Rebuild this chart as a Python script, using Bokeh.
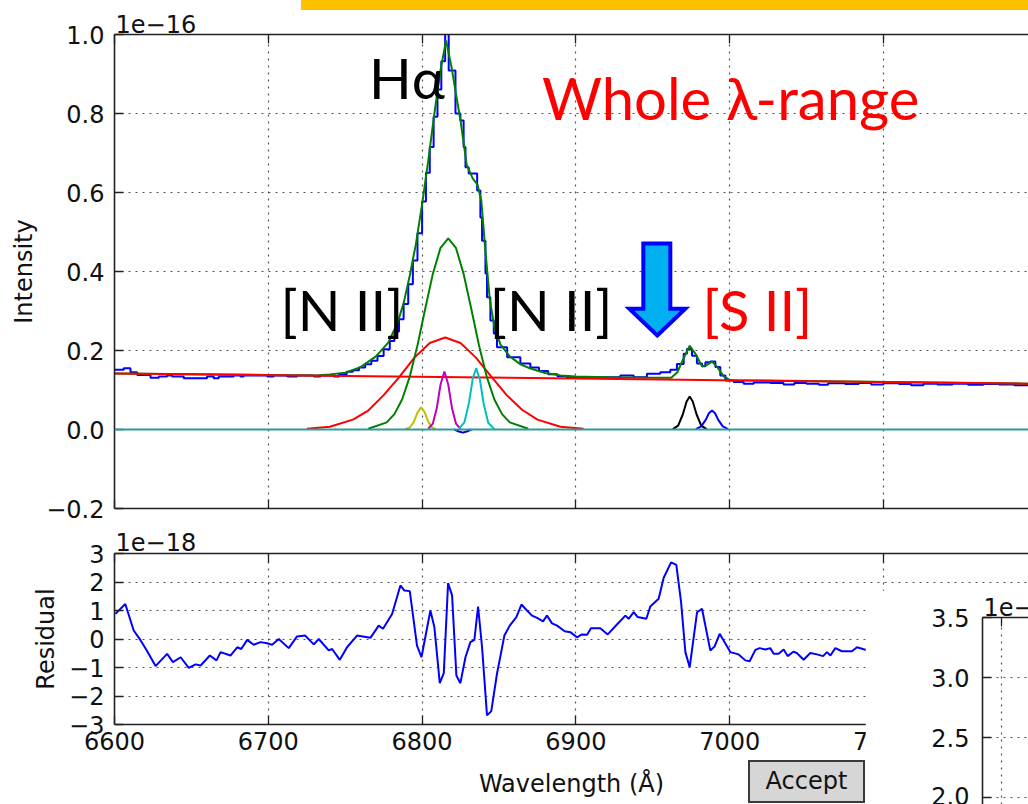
from bokeh.plotting import figure
from bokeh.models import (Range1d, LinearAxis, FixedTicker, CustomJSTickFormatter,
                          CustomLabelingPolicy, Label, Span, GridBox, Div, Column)
from bokeh.embed import file_html
from bokeh.resources import INLINE

# ---------------- data (flux in units of 1e-16, residual in 1e-18) ----------------
obs_wl = [6600, 6606, 6610.4, 6614.7, 6623.4, 6628.8, 6634.2, 6637.5, 6645, 6660.2, 6664.5,
          6667.8, 6677.5, 6681.9, 6684, 6699.3, 6703.6, 6712.3, 6718.8, 6729.6, 6733.9, 6742.6,
          6746, 6751, 6755, 6759, 6763, 6767, 6771, 6775, 6779, 6782, 6785, 6788, 6791, 6794,
          6797, 6800, 6802.5, 6805, 6807.5, 6810, 6812.5, 6815, 6817.3, 6821.7, 6824.9, 6827,
          6828.2, 6830.3, 6835.8, 6837.9, 6839, 6841.2, 6842.2, 6844.4, 6846.6, 6848.7, 6855.3,
          6863.9, 6870.4, 6876, 6882, 6888, 6894, 6928.9, 6937.6, 6946.2, 6954.9, 6961.4,
          6965.7, 6970.1, 6972.2, 6975.5, 6978.7, 6982, 6984.2, 6987.4, 6990.7, 6993.9, 6997.2,
          7002.6, 7009.1, 7015.6, 7026.4, 7035, 7042, 7050, 7058, 7064, 7075, 7084, 7092, 7100,
          7110, 7118, 7126, 7135, 7145, 7155, 7165, 7175, 7185, 7194.3]
obs_flux = [0.151, 0.155, 0.145, 0.138, 0.131, 0.134, 0.137, 0.134, 0.130, 0.134, 0.130,
            0.134, 0.137, 0.134, 0.137, 0.134, 0.137, 0.134, 0.137, 0.134, 0.137, 0.134,
            0.140, 0.146, 0.150, 0.157, 0.165, 0.174, 0.186, 0.203, 0.224, 0.248, 0.279, 0.318,
            0.368, 0.428, 0.497, 0.577, 0.650, 0.715, 0.792, 0.861, 0.932, 1.03, 0.909, 0.800,
            0.782, 0.715, 0.664, 0.648, 0.605, 0.537, 0.478, 0.395, 0.335, 0.276, 0.243, 0.208,
            0.183, 0.167, 0.157, 0.148, 0.140, 0.135, 0.132, 0.137, 0.132, 0.141, 0.145, 0.151,
            0.166, 0.192, 0.204, 0.187, 0.167, 0.160, 0.170, 0.172, 0.158, 0.137, 0.124,
            0.120, 0.116, 0.119, 0.118, 0.114, 0.118, 0.116, 0.113, 0.117, 0.115, 0.118, 0.114,
            0.117, 0.115, 0.112, 0.116, 0.114, 0.116, 0.113, 0.115, 0.114, 0.112, 0.112]

total_wl = [6600, 6700, 6730, 6740, 6750, 6760, 6770, 6778, 6784, 6788, 6792, 6796, 6800,
            6804, 6808, 6812, 6815.6, 6819.5, 6822, 6825, 6829, 6833, 6836, 6838.5, 6841,
            6844, 6847, 6851, 6857, 6864, 6870, 6880, 6890, 6900, 6920, 6950, 6962, 6966,
            6970, 6974, 6978, 6982, 6985, 6988.5, 6992, 6996, 7000, 7194.3]
total_flux = [0.142, 0.138, 0.137, 0.139, 0.144, 0.158, 0.185, 0.220, 0.270, 0.320, 0.390,
              0.470, 0.570, 0.680, 0.800, 0.910, 0.985, 0.910, 0.850, 0.782, 0.670, 0.635,
              0.620, 0.580, 0.460, 0.330, 0.260, 0.215, 0.185, 0.165, 0.155, 0.143, 0.137,
              0.134, 0.132, 0.131, 0.131, 0.145, 0.180, 0.212, 0.190, 0.160, 0.163, 0.172,
              0.158, 0.135, 0.125, 0.116]

cont_wl = [6600, 6900, 7194.3]
cont_flux = [0.142, 0.129, 0.116]

broad_wl = [6725, 6740, 6755, 6765, 6775, 6785, 6795, 6805, 6815, 6825, 6835, 6845, 6855,
            6865, 6875, 6890, 6905]
broad_flux = [0.002, 0.007, 0.025, 0.048, 0.087, 0.132, 0.182, 0.219, 0.233, 0.219, 0.182,
              0.134, 0.087, 0.050, 0.025, 0.007, 0.002]

narrow_wl = [6765, 6777, 6782, 6787, 6792, 6797, 6802, 6807, 6812, 6817, 6822, 6827, 6832,
             6837, 6842, 6847, 6852, 6857, 6869]
narrow_flux = [0.002, 0.018, 0.039, 0.076, 0.134, 0.213, 0.305, 0.394, 0.460, 0.484, 0.460,
               0.394, 0.305, 0.213, 0.134, 0.076, 0.039, 0.018, 0.002]

yel_wl = [6789, 6792, 6794.5, 6797, 6799.3, 6801.5, 6804, 6806.5, 6809]
yel_flux = [0.001, 0.005, 0.018, 0.043, 0.056, 0.045, 0.020, 0.005, 0.001]

mag_wl = [6804, 6807, 6809.5, 6812, 6814.5, 6817, 6819.5, 6822, 6825]
mag_flux = [0.002, 0.015, 0.053, 0.114, 0.147, 0.114, 0.053, 0.015, 0.002]

cyan_wl = [6824, 6827.5, 6830.5, 6833, 6835.2, 6837.5, 6840, 6843, 6847]
cyan_flux = [0.002, 0.018, 0.068, 0.130, 0.155, 0.128, 0.066, 0.017, 0.001]

dip_wl = [6821, 6824, 6826.5, 6829, 6832]
dip_flux = [0.0, -0.005, -0.008, -0.005, 0.0]

s1_wl = [6963, 6966.5, 6969.5, 6972, 6974, 6976, 6978.5, 6981.5, 6985]
s1_flux = [0.001, 0.010, 0.038, 0.071, 0.0835, 0.071, 0.038, 0.010, 0.001]

s2_wl = [6978, 6981.5, 6984.5, 6986.5, 6988.5, 6990.5, 6992.5, 6995.5, 6999]
s2_flux = [0.001, 0.008, 0.025, 0.041, 0.048, 0.041, 0.025, 0.008, 0.001]

resid_wl = [6600.6, 6607, 6612.5, 6617, 6621, 6626.7, 6634.2, 6638, 6643, 6648.3, 6652.7,
            6656, 6662, 6666.3, 6669, 6675.4, 6679.8, 6682.4, 6686.3, 6690.5, 6695, 6699.2,
            6702.5, 6706.8, 6713.3, 6718.7, 6724, 6729.6, 6732.8, 6739.3, 6741.5, 6746.5,
            6751.2, 6757.7, 6766.4, 6771.8, 6774.6, 6780.5, 6785.9, 6788.5, 6792, 6796.7,
            6799.6, 6805.4, 6808, 6811.5, 6814.1, 6816.9, 6819.5, 6822.3, 6824.9, 6828.2,
            6831.4, 6834, 6836.4, 6839, 6842.2, 6845, 6848.7, 6853.5, 6857, 6861.3, 6864.6,
            6868.2, 6871.5, 6874.8, 6878.6, 6881.2, 6884.5, 6887.8, 6892.7, 6896.4, 6900.7,
            6903.9, 6907.3, 6909.8, 6915.9, 6920.7, 6926.7, 6932.2, 6934.3, 6937.6, 6940.2,
            6945.8, 6948.4, 6953.8, 6957.1, 6961.9, 6965.3, 6968.4, 6971.2, 6974, 6978.8,
            6982, 6987.4, 6990.2, 6993.5, 7000.4, 7005.8, 7010.2, 7013, 7016.7, 7019.5,
            7023.2, 7026.4, 7028.6, 7031.8, 7035.1, 7037.7, 7041.6, 7043.8, 7048.1, 7052.4,
            7056.8, 7060.7, 7063.3, 7065.5, 7068.7, 7073, 7079.5, 7082.8, 7088.2, 7095, 7105]
resid_val = [0.88, 1.23, 0.30, -0.05, -0.40, -0.95, -0.52, -0.81, -0.64, -1.01, -0.89,
             -0.93, -0.58, -0.75, -0.46, -0.58, -0.29, -0.35, -0.03, -0.20, -0.11, -0.15,
             -0.20, 0.00, -0.32, 0.09, 0.12, -0.19, 0.00, -0.40, -0.35, -0.73,
             -0.29, 0.12, 0.04, 0.47, 0.36, 0.88, 1.88, 1.70, 1.68, -0.23,
             -0.64, 1.00, 0.41, -1.55, -1.20, 1.96, 1.53, -1.28, -1.55, -0.64,
             -0.11, -0.03, 1.14, -0.29, -2.68, -2.53, -1.22, 0.12, 0.47, 0.77, 1.21,
             1.00, 0.82, 0.74, 0.62, 0.82, 0.55, 0.47, 0.27, 0.24, 0.06,
             0.16, 0.15, 0.38, 0.38, 0.16, 0.51, 0.82, 0.71, 0.94, 0.77,
             0.71, 1.14, 1.41, 2.15, 2.69, 2.60, 1.29, -0.46, -0.99, 0.94,
             1.06, -0.40, -0.26, 0.18, -0.46, -0.54, -0.75, -0.78, -0.38, -0.32,
             -0.37, -0.32, -0.52, -0.52, -0.37, -0.60, -0.44, -0.50, -0.73, -0.49,
             -0.54, -0.60, -0.46, -0.58, -0.32, -0.43, -0.43, -0.29, -0.38, -0.35, -0.40]

x_ticks = [6600, 6700, 6800, 6900, 7000, 7100, 7200]
main_y_ticks = [-0.2, 0.0, 0.2, 0.4, 0.6, 0.8, 1.0]
resid_y_ticks = [-3, -2, -1, 0, 1, 2, 3]
inset_x_ticks = [6600]
inset_y_ticks = [2.0, 2.5, 3.0, 3.5]

# annotation arrow outline (wavelength, flux)
arrow_wl = [6943.85, 6961.4, 6961.4, 6971.15, 6952.95, 6934.75, 6943.85]
arrow_flux = [0.471, 0.471, 0.306, 0.306, 0.238, 0.306, 0.306]

# ---------------- styling helpers ----------------
MPL_FONT = "DejaVu Sans"
FS = "24px"
PPT_FONT = "Lato"


def no_labels():
    return CustomLabelingPolicy(code="for (const i of indices) { indices.unset(i) }\nreturn indices")


def style_axis(ax, labels=True):
    ax.axis_line_color = "#222222"
    ax.axis_line_width = 1.6
    ax.major_tick_line_color = "#222222"
    ax.major_tick_line_width = 1.3
    ax.major_tick_in = 9
    ax.major_tick_out = 0
    ax.minor_tick_line_color = None
    ax.major_label_text_font = MPL_FONT
    ax.major_label_text_color = "#111111"
    if labels:
        ax.major_label_text_font_size = FS
    else:
        ax.major_label_text_font_size = "0px"
        ax.major_label_standoff = 0
        ax.major_label_policy = no_labels()
    ax.axis_label_text_font = MPL_FONT
    ax.axis_label_text_font_size = FS
    ax.axis_label_text_font_style = "normal"
    ax.axis_label_text_color = "#111111"


def style_grid(p):
    p.xgrid.grid_line_color = "#555555"
    p.xgrid.grid_line_dash = "2 5"
    p.xgrid.grid_line_width = 1.2
    p.ygrid.grid_line_color = "#555555"
    p.ygrid.grid_line_dash = "2 5"
    p.ygrid.grid_line_width = 1.2


def style_title(p, text, standoff):
    p.title.text = text
    p.title.align = "left"
    p.title.offset = 1
    p.title.standoff = standoff
    p.title.text_font = MPL_FONT
    p.title.text_font_size = FS
    p.title.text_font_style = "normal"
    p.title.text_color = "#111111"


def fmt(decimals):
    return CustomJSTickFormatter(
        code="return tick.toFixed(%d).replace('-', '\\u2212');" % decimals)


X_END = 7194.3

# ---------------- main panel (canvas reaches under the residual panel) ----------------
p = figure(width=1028, height=590, x_range=Range1d(6600, X_END), y_range=Range1d(-0.2, 1.0),
           output_backend="svg", toolbar_location=None,
           min_border_left=114, min_border_right=0, min_border_top=34, min_border_bottom=82)
p.outline_line_color = None
p.background_fill_color = "white"
p.border_fill_color = "white"
style_title(p, "1e\u221216", 4)

xa = p.xaxis[0]
xa.ticker = FixedTicker(ticks=x_ticks)
style_axis(xa, labels=False)
ya = p.yaxis[0]
ya.ticker = FixedTicker(ticks=main_y_ticks)
ya.formatter = fmt(1)
ya.axis_label = "Intensity"
style_axis(ya)
ya.major_label_standoff = 10
ya.axis_label_standoff = 5
top_ax = LinearAxis(ticker=FixedTicker(ticks=x_ticks))
style_axis(top_ax, labels=False)
p.add_layout(top_ax, "above")
style_grid(p)

p.step(obs_wl, obs_flux, mode="after", line_color="#0000ff", line_width=2)
p.line(total_wl, total_flux, line_color="#008000", line_width=2)
p.line(cont_wl, cont_flux, line_color="#ff0000", line_width=2)
p.line(broad_wl, broad_flux, line_color="#ff0000", line_width=2)
p.line(narrow_wl, narrow_flux, line_color="#008000", line_width=2)
p.line(yel_wl, yel_flux, line_color="#bfbf00", line_width=2)
p.line(mag_wl, mag_flux, line_color="#bf00bf", line_width=2)
p.line(cyan_wl, cyan_flux, line_color="#00bfbf", line_width=2)
p.line(dip_wl, dip_flux, line_color="#0000cc", line_width=2)
p.line(s1_wl, s1_flux, line_color="#000000", line_width=2)
p.line(s2_wl, s2_flux, line_color="#0000ff", line_width=2)
p.add_layout(Span(location=0, dimension="width", line_color="#2f9c9c", line_width=2.2))

p.patch(arrow_wl, arrow_flux, fill_color="#00b0f0", line_color="#0000ff", line_width=4,
        line_join="miter")

p.add_layout(Label(x=6765.4, y=0.892, text="H\u03b1", text_font=PPT_FONT,
                   text_font_size="56px", text_color="black", text_baseline="alphabetic"))
p.add_layout(Label(x=6877.9, y=0.840, text="Whole \u03bb-range", text_font=PPT_FONT,
                   text_font_size="58px", text_color="#ff0000", text_baseline="alphabetic"))
p.add_layout(Label(x=6708.0, y=0.303, text="[N II]", text_font=PPT_FONT,
                   text_font_size="56px", text_color="black", text_baseline="alphabetic"))
p.add_layout(Label(x=6844.0, y=0.303, text="[N II]", text_font=PPT_FONT,
                   text_font_size="56px", text_color="black", text_baseline="alphabetic"))
p.add_layout(Label(x=6982.3, y=0.303, text="[S II]", text_font=PPT_FONT,
                   text_font_size="56px", text_color="#ff0000", text_baseline="alphabetic"))

# ---------------- residual panel ----------------
r = figure(width=1028, height=286, x_range=Range1d(6600, X_END), y_range=Range1d(-3, 3),
           output_backend="svg", toolbar_location=None,
           min_border_left=114, min_border_right=0, min_border_top=35, min_border_bottom=80)
r.outline_line_color = None
r.background_fill_color = "white"
r.border_fill_color = None
style_title(r, "1e\u221218", 5)
rx = r.xaxis[0]
rx.ticker = FixedTicker(ticks=x_ticks)
rx.formatter = fmt(0)
rx.axis_label = "Wavelength (\u00c5)"
style_axis(rx)
rx.major_label_standoff = 7
rx.axis_label_standoff = 17
ry = r.yaxis[0]
ry.ticker = FixedTicker(ticks=resid_y_ticks)
ry.formatter = fmt(0)
ry.axis_label = "Residual"
style_axis(ry)
ry.major_label_standoff = 10
ry.axis_label_standoff = 6
rtop = LinearAxis(ticker=FixedTicker(ticks=x_ticks))
style_axis(rtop, labels=False)
r.add_layout(rtop, "above")
style_grid(r)

r.line(resid_wl, resid_val, line_color="#0000ff", line_width=2)

# ---------------- inset (partly visible second window) ----------------
ins = figure(width=163, height=214, x_range=Range1d(6581, 6627), y_range=Range1d(1.942, 3.5),
             output_backend="svg", toolbar_location=None, x_axis_location="above",
             min_border_left=117, min_border_right=0, min_border_top=27, min_border_bottom=0)
ins.outline_line_color = None
ins.background_fill_color = "white"
ins.border_fill_color = "white"
style_title(ins, "1e\u221217", 3)
ix = ins.xaxis[0]
ix.ticker = FixedTicker(ticks=inset_x_ticks)
style_axis(ix, labels=False)
iy = ins.yaxis[0]
iy.ticker = FixedTicker(ticks=inset_y_ticks)
iy.formatter = fmt(1)
style_axis(iy)
iy.major_label_standoff = 13
style_grid(ins)

main_box = Column(children=[p], width=1028, height=590)
resid_box = Column(children=[r], width=1028, height=286)
ins_box = Column(children=[ins], width=163, height=214)

# ---------------- overlays ----------------
bar = Div(text="", width=727, height=10, margin=(0, 0, 0, 301),
          styles={"background-color": "#ffc000"})
accept = Div(text="Accept", width=117, height=43, margin=(170, 0, 0, 748),
             styles={"background-color": "#d6d6d6", "border": "2px solid #3a3a3a",
                     "box-sizing": "border-box", "font-family": MPL_FONT,
                     "font-size": "24px", "color": "#111111", "text-align": "center",
                     "line-height": "38px"})

grid = GridBox(children=[(main_box, 0, 0, 2, 2), (bar, 0, 0, 1, 2), (resid_box, 1, 0, 2, 2),
                         (accept, 2, 0, 1, 1), (ins_box, 2, 1, 1, 1)],
               rows=["518px", "72px", "214px"], cols=["865px", "163px"], spacing=0)

open("out.html", "w").write(file_html(grid, INLINE))
